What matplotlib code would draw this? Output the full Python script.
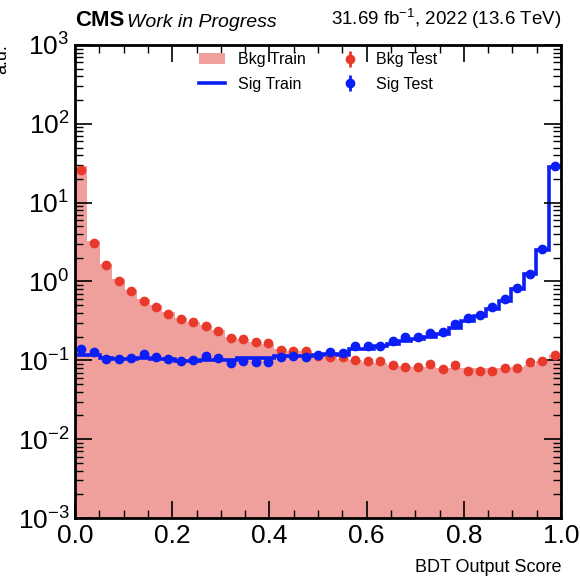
import numpy as np
import matplotlib
matplotlib.use("Agg")
import matplotlib.pyplot as plt
from matplotlib.ticker import LogLocator, MultipleLocator, NullFormatter

plt.rcParams['font.family'] = ['Liberation Sans', 'DejaVu Sans']
plt.rcParams['mathtext.fontset'] = 'custom'
plt.rcParams['mathtext.rm'] = 'Liberation Sans'
plt.rcParams['mathtext.it'] = 'Liberation Sans:italic'
plt.rcParams['mathtext.bf'] = 'Liberation Sans:bold'

# 39 bins between 0 and 1
edges = np.linspace(0, 1, 40)

bkg_train = [29.0, 3.27, 1.66, 1.08, 0.78, 0.60, 0.50, 0.41, 0.34, 0.31,
             0.28, 0.24, 0.20, 0.185, 0.17, 0.16, 0.14, 0.133, 0.13, 0.12,
             0.11, 0.105, 0.10, 0.095, 0.093, 0.088, 0.084, 0.083, 0.082, 0.081,
             0.080, 0.079, 0.079, 0.079, 0.080, 0.082, 0.088, 0.099, 0.118]
bkg_test = [25.9, 3.12, 1.63, 1.00, 0.75, 0.57, 0.48, 0.39, 0.333, 0.303,
            0.275, 0.233, 0.192, 0.187, 0.169, 0.164, 0.135, 0.133, 0.133, 0.115,
            0.109, 0.109, 0.102, 0.097, 0.097, 0.086, 0.082, 0.082, 0.090, 0.078,
            0.088, 0.073, 0.073, 0.073, 0.080, 0.080, 0.095, 0.097, 0.117]
sig_train = [0.118, 0.118, 0.107, 0.105, 0.105, 0.106, 0.105, 0.105, 0.097, 0.097,
             0.100, 0.100, 0.100, 0.107, 0.107, 0.107, 0.115, 0.115, 0.115, 0.118,
             0.122, 0.118, 0.140, 0.140, 0.150, 0.160, 0.178, 0.185, 0.200, 0.215,
             0.260, 0.320, 0.370, 0.450, 0.570, 0.810, 1.25, 2.53, 28.0]
sig_test = [0.141, 0.126, 0.104, 0.104, 0.107, 0.120, 0.109, 0.104, 0.099, 0.102,
            0.115, 0.106, 0.093, 0.097, 0.094, 0.096, 0.111, 0.115, 0.111, 0.118,
            0.129, 0.123, 0.153, 0.153, 0.150, 0.178, 0.200, 0.200, 0.221, 0.227,
            0.285, 0.342, 0.381, 0.472, 0.603, 0.832, 1.23, 2.55, 28.8]

centers = 0.5 * (edges[1:] + edges[:-1])

fig = plt.figure(figsize=(5.8, 5.84), dpi=100)
ax = fig.add_axes([0.1293, 0.113, 0.838, 0.810])

h_bt = ax.stairs(bkg_train, edges, fill=True, color='#f0a09c', label='Bkg Train')
h_st = ax.stairs(sig_train, edges, baseline=None, color='#0a1ef5', lw=2.6, label='Sig Train')
h_bs = ax.errorbar(centers, bkg_test, yerr=0, fmt='o', color='#e8392b', ms=6, elinewidth=2,
                   label='Bkg Test')
h_ss = ax.errorbar(centers, sig_test, yerr=0, fmt='o', color='#0a1ef5', ms=6, elinewidth=2,
                   label='Sig Test')

ax.set_yscale('log')
ax.set_xlim(0, 1)
ax.set_ylim(1e-3, 1e3)

ax.xaxis.set_major_locator(MultipleLocator(0.2))
ax.xaxis.set_minor_locator(MultipleLocator(0.05))
ax.yaxis.set_major_locator(LogLocator(base=10, numticks=10))
ax.yaxis.set_minor_locator(LogLocator(base=10, subs=np.arange(2, 10), numticks=20))
ax.yaxis.set_minor_formatter(NullFormatter())
ax.tick_params(which='both', direction='in', top=True, right=True, labelsize=19)
ax.tick_params(which='major', length=12, width=1.2)
ax.tick_params(which='minor', length=6, width=1.0)
ax.tick_params(axis='x', pad=4)
ax.tick_params(axis='y', pad=4)
for s in ax.spines.values():
    s.set_linewidth(2)

ax.set_xlabel('BDT Output Score', fontsize=13, loc='right', labelpad=8)
fig.text(-0.012, 0.925, 'a.u.', rotation=90, fontsize=13, ha='left', va='top')

ax.text(0.0, 1.03, 'CMS', transform=ax.transAxes, fontsize=16, fontweight='bold',
        ha='left', va='bottom')
ax.text(0.108, 1.03, 'Work in Progress', transform=ax.transAxes, fontsize=14,
        style='italic', ha='left', va='bottom')
ax.text(1.0, 1.03, r'31.69 fb$^{-1}$, 2022 (13.6 TeV)', transform=ax.transAxes,
        fontsize=13.5, ha='right', va='bottom')

ax.legend([h_bt, h_st, h_bs, h_ss], ['Bkg Train', 'Sig Train', 'Bkg Test', 'Sig Test'],
          ncol=2, loc='upper center', bbox_to_anchor=(0.5, 1.015), frameon=False,
          fontsize=11.5, handlelength=1.6, columnspacing=2.0, labelspacing=0.6)

fig.savefig('out.png', dpi=100)
